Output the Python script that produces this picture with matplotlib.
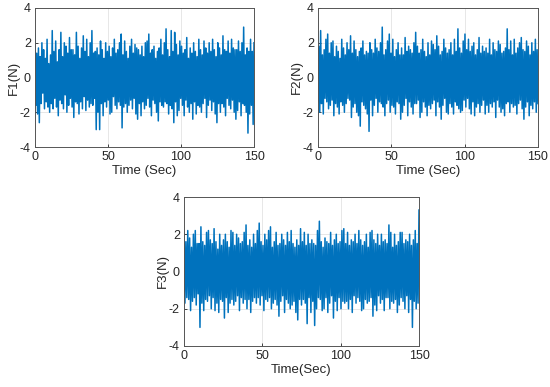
import numpy as np
import matplotlib
matplotlib.use("Agg")
import matplotlib.pyplot as plt

plt.rcParams["font.family"] = ["Liberation Sans", "DejaVu Sans"]
plt.rcParams["axes.unicode_minus"] = False

t_end = 150.0

F1 = [
 2.5, -1.6, 1.4, -2.1, 1.7, -2.6, 1.2, -1.5, 2.0, -0.9, 1.6, -1.8, 1.1, -1.4, 2.2, -1.7, 0.8, -2.0, 1.3, -1.5, 2.7,
 -1.8, 1.5, -1.2, 2.1, -1.7, 0.9, -2.2, 1.6, -1.3, 2.6, -1.5, 1.2, -1.8, 2.0, -1.0, 1.8, -2.0, 1.4, -1.6, 2.3,
 -1.2, 1.6, -1.7, 1.6, -2.3, 1.3, -1.4, 2.6, -1.5, 1.8, -2.1, 1.1, -1.4, 1.7, -1.8, 2.4, -1.1, 1.5, -1.9, 2.2, -1.3, 1.2,
 -1.7, 2.0, -1.5, 2.7, -1.6, 1.4, -1.2, 1.5, -3.0, 1.7, -2.0, 1.3, -3.0, 2.1, -1.5, 1.6, -2.2, 1.1, -1.4, 2.0, -1.7, 1.5,
 -1.3, 1.8, -2.1, 1.2, -2.0, 1.7, -1.1, 2.2, -1.6, 1.4, -1.8, 1.6, -1.4, 2.0, -1.6, 2.5, -2.9, 1.3, -1.7, 2.1, -1.5,
 1.5, -2.0, 1.1, -1.6, 1.8, -1.3, 2.2, -1.8, 1.4, -1.2, 1.9, -2.1, 1.7, -2.4, 1.6, -1.5, 1.3, -2.2, 1.8, -1.4, 1.2,
 -1.8, 2.0, -1.6, 2.1, -1.2, 2.5, -1.7, 1.4, -2.2, 1.6, -1.3, 1.8, -1.5, 1.1, -2.0, 1.5, -2.5, 1.7, -1.4, 2.2, -1.6,
 1.3, -1.7, 2.0, -1.4, 2.8, -1.5, 1.6, -2.1, 1.2, -1.6, 2.7, -1.8, 1.5, -2.6, 2.6, -1.4, 1.9, -2.2, 1.3, -1.9, 2.1, -1.2,
 1.8, -1.6, 1.4, -2.2, 1.6, -1.3, 2.3, -1.7, 1.1, -2.0, 1.7, -1.5, 1.4, -2.4, 2.0, -1.4, 1.5, -2.1, 1.2, -1.6, 2.2,
 -1.7, 1.6, -2.0, 1.3, -1.5, 2.1, -1.2, 1.7, -2.3, 1.4, -1.6, 2.0, -1.3, 1.5, -1.9, 2.2, -1.4, 1.6, -2.1, 1.2,
 -2.6, 2.0, -1.5, 1.7, -2.0, 1.3, -1.5, 2.4, -1.7, 1.6, -2.2, 1.5, -1.2, 2.1, -1.6, 1.4, -1.8, 2.2, -1.3, 1.7, -2.0,
 1.6, -2.4, 1.6, -1.9, 2.1, -1.4, 1.5, -2.2, 2.0, -1.5, 2.9, -1.6, 1.3, -2.0, 1.7, -3.2, 1.5, -2.1, 2.2, -1.6, 1.5, -2.7, 2.0,
]

F2 = [
 -1.4, 1.8, -2.0, 2.7, -1.5, 1.3, -2.1, 1.6, -1.2, 2.2, -1.4, 2.5, -1.8, 1.4, -1.6, 2.0, -1.3, 2.1, -2.2, 1.2, -1.5,
 1.8, -1.7, 1.5, -2.1, 1.1, -1.4, 2.2, -1.6, 1.7, -2.0, 1.3, -1.5, 2.0, -1.2, 1.6, -1.3, 2.4, -2.3, 1.4, -1.7, 2.1,
 -1.5, 1.6, -2.0, 1.2, -2.2, 1.5, -2.8, 1.7, -1.4, 2.1, -1.6, 1.3, -1.8, 1.5, -2.1, 1.4, -3.1, 2.0, -1.3, 1.6, -2.2, 1.4,
 -1.6, 2.2, -1.2, 1.7, -2.0, 1.5, -1.4, 2.0, -1.5, 2.9, -1.7, 1.3, -2.2, 1.6, -1.5, 2.1, -1.3, 2.5, -2.0, 1.4, -1.6,
 2.2, -1.7, 1.2, -2.1, 1.6, -1.4, 2.0, -1.5, 1.3, -2.4, 1.7, -2.0, 1.3, -1.6, 2.3, -1.2, 1.5, -2.2, 1.8, -1.4, 1.6,
 -1.7, 1.4, -2.1, 2.0, -1.5, 2.6, -1.5, 1.8, -1.3, 1.4, -2.3, 1.6, -2.0, 2.2, -1.4, 1.5, -1.7, 1.2, -2.2, 2.0, -1.6, 1.3,
 -1.8, 2.1, -1.5, 1.9, -1.3, 1.6, -2.2, 2.4, -1.4, 1.8, -1.7, 1.3, -2.4, 1.5, -1.6, 2.2, -1.2, 1.7, -2.0, 1.4, -2.1,
 1.6, -1.5, 2.0, -1.7, 1.3, -2.1, 2.2, -1.4, 1.5, -1.6, 2.8, -1.8, 1.7, -2.0, 1.4, -1.9, 2.1, -1.3, 2.5, -1.7, 1.6,
 -1.2, 2.2, -1.8, 1.5, -2.1, 1.8, -1.4, 2.0, -2.2, 1.3, -1.7, 1.6, -1.5, 2.3, -2.0, 1.4, -1.6, 1.8, -1.3, 1.5,
 -2.1, 1.7, -1.6, 1.4, -2.0, 2.2, -1.5, 1.3, -1.7, 2.0, -1.4, 1.6, -2.3, 1.5, -1.3, 2.1, -1.7, 1.9, -2.0, 1.4,
 -1.8, 1.5, -2.2, 1.7, -1.5, 2.8, -1.4, 1.6, -2.0, 2.1, -1.5, 1.3, -1.7, 2.2, -1.6, 1.4, -2.1, 1.7, -1.5, 2.0, -1.3,
 2.3, -1.8, 1.6, -2.4, 1.5, -1.7, 2.1, -1.4, 1.8, -2.2, 1.3, -1.6, 2.0, -1.8, 1.5, -1.4, 2.2, -2.0, 1.6, -1.5,
]

F3 = [
 2.1, -1.7, 1.6, -1.4, 2.2, -1.5, 1.8, -2.1, 1.3, -1.6, 2.0, -1.4, 2.2, -1.8, 1.5, -1.2, 1.5, -3.0, 2.4, -1.7, 1.6, -2.1,
 1.4, -1.5, 2.1, -1.6, 2.2, -1.3, 1.7, -2.0, 1.5, -1.4, 2.3, -2.1, 1.6, -1.7, 1.2, -2.2, 2.0, -1.5, 1.4, -1.6,
 1.7, -2.5, 2.0, -1.4, 1.6, -2.2, 1.3, -1.7, 2.2, -1.5, 2.1, -1.8, 1.4, -1.6, 2.0, -1.3, 1.8, -2.1, 1.5, -1.4,
 1.6, -1.7, 2.1, -1.5, 2.5, -2.0, 1.4, -1.5, 1.7, -2.2, 1.3, -1.6, 2.0, -1.4, 1.5, -1.7, 2.2, -1.4, 2.6, -1.8, 1.6, -1.3,
 1.4, -2.1, 2.0, -1.5, 1.7, -1.6, 2.2, -1.4, 2.4, -2.0, 1.3, -1.7, 1.6, -1.5, 2.1, -1.8, 1.4, -2.4, 1.5, -1.6, 2.0,
 -1.3, 1.7, -2.2, 1.4, -1.5, 2.1, -1.7, 1.6, -2.0, 2.2, -1.8, 1.5, -1.6, 1.3, -2.2, 1.7, -2.6, 1.4, -1.5, 2.3, -1.8,
 1.6, -1.5, 2.1, -1.7, 1.4, -2.8, 2.0, -1.4, 1.5, -2.2, 1.7, -1.6, 1.5, -2.9, 1.4, -2.0, 2.2, -1.4, 2.7, -1.5, 1.6, -2.1, 1.3,
 -2.0, 1.8, -1.4, 1.6, -2.2, 1.5, -1.7, 2.1, -1.3, 1.4, -2.5, 1.7, -1.6, 2.0, -2.1, 1.5, -1.4, 1.6, -2.0, 2.2,
 -1.6, 2.3, -1.7, 1.5, -1.6, 2.1, -2.0, 1.4, -1.5, 1.7, -2.2, 1.6, -1.3, 2.0, -1.7, 1.5, -1.4, 2.2, -1.6, 1.7, -2.1,
 1.4, -2.0, 1.6, -1.5, 2.0, -1.7, 1.3, -1.6, 2.1, -1.4, 2.2, -2.4, 1.7, -1.8, 1.5, -2.1, 2.0, -1.3, 1.4, -1.7,
 2.0, -1.5, 1.6, -2.1, 1.7, -1.4, 1.5, -1.4, 2.5, -2.0, 2.1, -1.6, 1.3, -1.7, 2.0, -1.5, 1.4, -2.2, 1.6, -1.8, 2.1,
 -1.4, 2.1, -1.6, 1.5, -2.0, 1.7, -1.3, 1.6, -2.2, 2.0, -1.5, 1.4, -3.0, 1.7, -1.6, 2.2, -2.0, 1.5, -1.7, 3.3,
]

ylabels = ["F1(N)", "F2(N)", "F3(N)"]
xlabels = ["Time (Sec)", "Time (Sec)", "Time(Sec)"]
xticks = [0, 50, 100, 150]
yticks = [-4, -2, 0, 2, 4]

fig = plt.figure(figsize=(5.5, 3.87), dpi=100)
rects = [
    [35/550, 1-147/387, 219/550, 139/387],
    [318/550, 1-147/387, 220/550, 139/387],
    [184/550, 1-346/387, 235/550, 149/387],
]
blue = "#0072BD"
for rect, y, yl, xl in zip(rects, [F1, F2, F3], ylabels, xlabels):
    ax = fig.add_axes(rect)
    y = np.array(y)
    t = np.linspace(0, t_end, len(y))
    ax.plot(t, y, color=blue, lw=1.1)
    ax.set_xlim(0, 150)
    ax.set_ylim(-4, 4)
    ax.set_xticks(xticks)
    ax.set_yticks(yticks)
    ax.grid(True, color="#e3e3e3", lw=0.6)
    ax.set_axisbelow(True)
    ax.tick_params(direction="in", labelsize=9, length=2.5, colors="#262626", width=0.6, pad=3)
    for s in ax.spines.values():
        s.set_color("#555555")
        s.set_linewidth(0.7)
    ax.set_xlabel(xl, fontsize=9.5, labelpad=1, color="#262626")
    ax.set_ylabel(yl, fontsize=9.5, labelpad=0, color="#262626")

fig.savefig("out.png", dpi=100)
